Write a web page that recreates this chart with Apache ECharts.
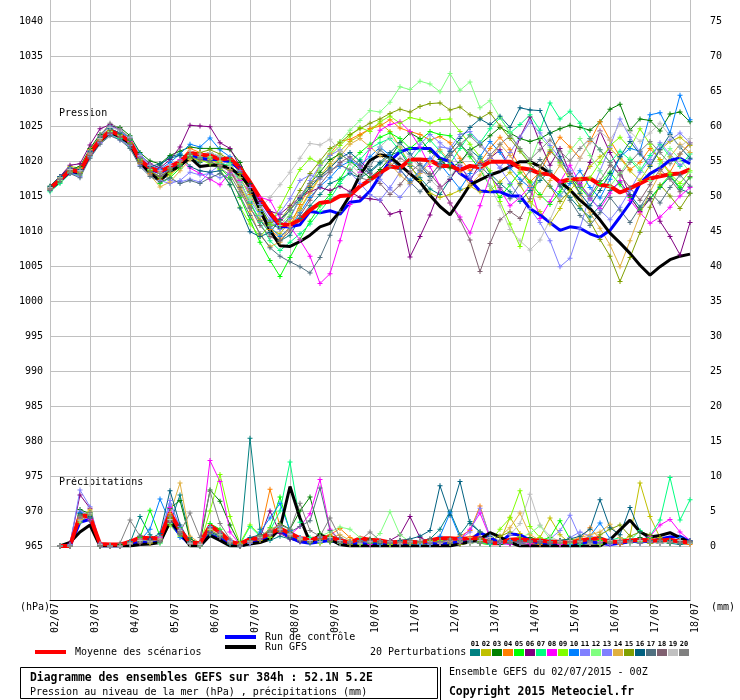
<!DOCTYPE html>
<html>
<head>
<meta charset="utf-8">
<title>Diagramme des ensembles GEFS</title>
<script src="https://cdn.jsdelivr.net/npm/echarts@6/dist/echarts.min.js"></script>
<style>
html, body { margin: 0; padding: 0; background: #fff; }
#chart { width: 740px; height: 700px; }
</style>
</head>
<body>
<div id="chart"></div>
<script>
// echeances toutes les 6h, du 02/07 00h au 18/07 00h
var steps = [
	'02/07 00h','02/07 06h','02/07 12h','02/07 18h','03/07 00h','03/07 06h','03/07 12h','03/07 18h',
	'04/07 00h','04/07 06h','04/07 12h','04/07 18h','05/07 00h','05/07 06h','05/07 12h','05/07 18h',
	'06/07 00h','06/07 06h','06/07 12h','06/07 18h','07/07 00h','07/07 06h','07/07 12h','07/07 18h',
	'08/07 00h','08/07 06h','08/07 12h','08/07 18h','09/07 00h','09/07 06h','09/07 12h','09/07 18h',
	'10/07 00h','10/07 06h','10/07 12h','10/07 18h','11/07 00h','11/07 06h','11/07 12h','11/07 18h',
	'12/07 00h','12/07 06h','12/07 12h','12/07 18h','13/07 00h','13/07 06h','13/07 12h','13/07 18h',
	'14/07 00h','14/07 06h','14/07 12h','14/07 18h','15/07 00h','15/07 06h','15/07 12h','15/07 18h',
	'16/07 00h','16/07 06h','16/07 12h','16/07 18h','17/07 00h','17/07 06h','17/07 12h','17/07 18h',
	'18/07 00h'
];

// couleurs des 20 perturbations
var memberColors = ['#008080','#c0c000','#008000','#ff8000','#00ff00','#800080','#00ff80','#ff00ff','#80ff00','#0080ff',
	'#8080ff','#80ff80','#8080ff','#e0b040','#80a000','#006080','#507080','#806070','#c0c0c0','#808080'];

// pression (hPa) - moyenne, controle, GFS
var presMean = [
	1016.1,1017.3,1018.7,1018.5,1021.1,1023.0,1024.3,1023.7,1022.8,1020.1,1019.0,1018.5,1019.2,1019.9,1021.2,1020.9,1020.8,
	1020.2,1020.4,1019.0,1017.0,1014.7,1012.6,1010.9,1010.9,1011.6,1013.0,1014.0,1014.2,1015.0,1015.1,1016.4,1017.3,
	1018.3,1019.2,1019.0,1020.2,1020.2,1020.1,1019.3,1019.3,1018.7,1019.3,1019.1,1019.9,1019.9,1019.9,1019.0,1018.8,
	1018.2,1018.1,1017.0,1017.4,1017.4,1017.5,1016.6,1016.4,1015.5,1016.1,1016.8,1017.5,1017.8,1018.1,1018.2,1018.8
];
var presCtrl = [
	1016.0,1017.2,1018.5,1018.3,1020.9,1022.9,1024.2,1023.5,1022.6,1019.9,1018.8,1018.3,1019.0,1019.8,1021.0,1020.4,1020.2,
	1020.2,1019.9,1018.8,1016.8,1014.5,1012.4,1010.6,1010.6,1010.9,1012.8,1012.6,1012.9,1012.4,1014.1,1014.3,1015.7,
	1017.9,1020.0,1021.3,1021.8,1021.8,1021.8,1020.4,1019.9,1018.2,1017.3,1015.7,1015.6,1015.6,1015.0,1015.0,1013.2,
	1012.3,1011.2,1010.1,1010.6,1010.4,1009.6,1009.1,1010.1,1012.0,1014.0,1016.8,1018.2,1019.0,1020.1,1020.4,1019.6
];
var presGfs = [
	1016.0,1017.2,1018.6,1018.3,1021.0,1022.8,1024.1,1023.5,1022.5,1019.8,1018.3,1017.2,1018.5,1019.3,1020.5,1019.2,1019.4,
	1019.4,1019.0,1018.0,1016.3,1013.0,1010.1,1007.9,1007.8,1008.5,1009.4,1010.6,1011.1,1012.8,1015.1,1018.0,1020.1,
	1020.9,1020.6,1019.4,1018.2,1017.0,1015.1,1013.5,1012.3,1014.4,1016.6,1017.3,1018.0,1018.5,1019.2,1019.9,1019.9,
	1019.2,1018.2,1017.0,1015.9,1014.4,1013.2,1011.6,1009.7,1008.3,1006.8,1005.1,1003.7,1004.9,1005.9,1006.4,1006.7
];

// pression (hPa) - perturbations 01 a 20
var pres01 = [
	1016.0,1017.6,1018.4,1018.2,1020.8,1023.2,1024.1,1023.2,1022.0,1019.6,1018.8,1019.4,1020.6,1021.0,1020.4,1019.8,1021.2,
	1020.6,1019.8,1017.2,1014.0,1011.5,1009.8,1008.6,1009.4,1011.8,1013.6,1015.2,1016.8,1017.4,1018.2,1017.6,1018.4,
	1019.6,1020.8,1021.4,1019.2,1017.6,1016.0,1015.2,1017.4,1019.8,1021.6,1020.4,1018.2,1016.8,1015.6,1014.2,1015.8,
	1017.2,1018.6,1016.4,1014.8,1013.2,1012.0,1013.6,1015.8,1017.0,1015.2,1013.4,1014.6,1016.2,1017.8,1016.0,1015.4
];
var pres02 = [
	1016.2,1017.8,1019.2,1019.0,1021.6,1023.6,1024.6,1024.0,1022.8,1020.4,1018.6,1017.2,1018.0,1019.2,1020.6,1020.0,1020.2,
	1019.6,1018.8,1016.4,1013.8,1011.6,1010.2,1009.6,1011.4,1013.2,1015.6,1017.8,1019.6,1021.4,1022.8,1023.6,1024.6,
	1025.4,1024.2,1022.0,1019.4,1017.2,1015.4,1014.8,1015.2,1015.8,1016.4,1015.6,1015.8,1017.0,1018.4,1016.6,1014.2,
	1012.8,1011.0,1013.2,1015.8,1017.4,1019.2,1020.6,1021.8,1020.4,1018.6,1017.2,1019.4,1021.6,1022.8,1023.4,1022.2
];
var pres03 = [
	1016.4,1017.8,1018.8,1019.2,1021.8,1023.8,1025.0,1024.8,1023.6,1021.2,1020.0,1019.6,1020.8,1021.4,1022.0,1021.8,1021.8,
	1021.8,1021.6,1019.8,1016.8,1013.6,1011.0,1010.4,1012.0,1014.6,1016.8,1018.4,1020.2,1021.0,1020.0,1018.8,1017.6,
	1018.8,1020.4,1022.6,1024.0,1023.2,1021.4,1020.2,1019.0,1019.8,1021.6,1022.4,1023.6,1024.8,1024.0,1023.2,1022.8,
	1023.2,1024.0,1024.6,1025.1,1024.8,1024.4,1025.6,1027.4,1028.1,1024.4,1026.0,1025.8,1024.3,1026.7,1027.0,1025.6
];
var pres04 = [
	1016.0,1017.4,1018.6,1018.4,1021.4,1023.2,1024.0,1023.4,1022.2,1019.6,1018.2,1017.4,1018.4,1020.0,1021.8,1021.2,1020.4,
	1019.8,1019.2,1017.6,1015.2,1012.4,1010.2,1009.0,1010.6,1013.8,1016.4,1019.4,1021.0,1022.8,1023.1,1023.8,1024.6,
	1025.0,1025.9,1024.7,1024.2,1023.8,1023.0,1023.5,1022.6,1020.4,1018.6,1019.8,1021.8,1023.4,1021.6,1019.2,1017.0,
	1018.4,1021.2,1023.4,1022.0,1020.4,1022.8,1025.6,1023.0,1020.6,1018.8,1019.8,1021.8,1020.2,1018.4,1021.0,1022.6
];
var pres05 = [
	1015.8,1017.0,1018.4,1018.6,1021.2,1022.8,1024.0,1023.8,1023.0,1020.4,1018.8,1016.8,1017.6,1019.0,1020.6,1020.4,1020.0,
	1019.0,1017.6,1014.8,1011.6,1008.4,1005.8,1003.5,1006.2,1008.8,1011.4,1013.6,1015.2,1017.4,1019.8,1021.2,1022.4,
	1023.4,1024.0,1023.2,1021.8,1023.0,1024.2,1023.8,1023.6,1022.4,1020.6,1018.8,1016.4,1014.8,1016.6,1018.4,1017.0,
	1015.2,1013.8,1015.6,1017.8,1016.2,1014.6,1016.8,1018.4,1016.6,1014.8,1013.0,1014.6,1016.4,1018.0,1016.2,1017.6
];
var pres06 = [
	1016.2,1017.8,1019.4,1019.6,1022.3,1024.6,1025.2,1024.4,1023.2,1020.8,1019.6,1019.0,1020.2,1022.0,1025.1,1025.0,1024.9,
	1022.6,1021.8,1019.2,1016.6,1014.2,1012.8,1012.4,1013.6,1014.8,1015.6,1016.2,1015.8,1016.4,1015.6,1014.8,1014.6,
	1014.4,1012.4,1012.8,1006.3,1009.2,1012.3,1016.1,1017.4,1019.4,1017.2,1019.6,1020.4,1021.6,1019.2,1023.4,1026.3,
	1022.6,1019.4,1021.8,1018.2,1016.4,1019.8,1024.3,1021.2,1018.6,1015.0,1012.8,1014.6,1011.4,1009.2,1006.6,1011.2
];
var pres07 = [
	1015.6,1016.8,1018.2,1018.0,1020.6,1022.6,1023.8,1023.2,1022.4,1019.8,1018.4,1017.8,1018.6,1019.4,1020.8,1020.6,1020.4,
	1019.6,1019.4,1017.0,1014.2,1011.2,1008.6,1007.2,1008.4,1009.6,1011.0,1012.8,1014.6,1016.8,1018.6,1020.2,1021.8,
	1022.6,1023.2,1021.4,1019.8,1021.6,1023.0,1021.4,1019.6,1021.8,1023.8,1022.6,1024.6,1026.2,1024.0,1025.2,1026.6,
	1024.4,1028.3,1026.0,1027.1,1025.4,1023.2,1021.6,1019.8,1021.4,1020.2,1018.6,1020.8,1022.4,1020.6,1019.2,1021.0
];
var pres08 = [
	1016.0,1017.4,1018.8,1018.8,1021.0,1022.6,1024.0,1023.6,1022.8,1020.6,1019.4,1018.6,1019.4,1020.2,1019.0,1018.2,1017.4,
	1016.6,1018.4,1017.2,1015.6,1014.8,1014.4,1011.8,1010.6,1008.7,1006.4,1002.5,1003.9,1008.6,1013.8,1018.4,1021.8,
	1024.4,1025.2,1025.6,1024.2,1022.0,1019.2,1016.4,1014.0,1012.0,1009.7,1013.6,1017.8,1016.0,1013.6,1014.8,1016.4,
	1011.8,1014.2,1017.0,1019.4,1016.8,1014.6,1013.2,1015.4,1017.2,1014.4,1012.6,1011.1,1012.0,1013.4,1015.0,1016.2
];
var pres09 = [
	1016.2,1017.6,1018.6,1018.2,1020.8,1022.8,1024.2,1023.8,1023.0,1020.2,1018.6,1017.6,1018.2,1019.6,1020.4,1020.2,1019.6,
	1018.8,1016.6,1013.4,1011.0,1009.2,1010.8,1013.4,1016.2,1018.8,1020.4,1019.6,1020.8,1022.2,1023.6,1024.8,1024.2,
	1025.6,1026.4,1025.4,1026.2,1025.9,1025.4,1025.9,1026.0,1024.2,1022.4,1020.6,1018.6,1014.2,1011.0,1007.8,1012.6,
	1019.2,1021.6,1019.8,1017.2,1015.4,1017.6,1019.8,1022.2,1023.4,1021.8,1024.6,1022.4,1020.0,1018.2,1016.8,1018.6
];
var pres10 = [
	1016.2,1017.6,1018.8,1018.6,1021.4,1023.4,1024.6,1024.0,1023.4,1021.0,1019.4,1018.8,1019.8,1021.0,1022.4,1022.0,1023.3,
	1021.6,1020.6,1018.4,1015.6,1012.8,1010.6,1009.2,1010.4,1012.6,1014.8,1016.4,1017.6,1019.2,1020.0,1019.4,1020.6,
	1022.0,1020.8,1018.8,1017.2,1018.6,1020.4,1019.6,1017.8,1016.0,1018.2,1020.6,1022.8,1021.2,1019.0,1017.4,1016.2,
	1018.0,1016.4,1015.0,1016.8,1018.6,1016.2,1014.7,1017.4,1020.6,1021.8,1021.4,1026.6,1026.9,1024.0,1029.4,1025.9
];
var pres11 = [
	1015.8,1017.2,1018.2,1017.8,1020.6,1022.6,1023.8,1023.0,1022.2,1019.4,1018.0,1017.2,1016.8,1017.2,1018.4,1018.0,1018.2,
	1017.6,1018.2,1016.8,1014.4,1012.2,1011.4,1012.6,1014.6,1017.2,1018.0,1017.4,1018.6,1019.6,1018.4,1016.8,1015.2,
	1014.4,1016.2,1018.4,1020.6,1022.4,1023.8,1022.6,1021.4,1019.2,1017.6,1018.8,1020.4,1019.0,1016.8,1014.8,1013.2,
	1011.2,1008.6,1004.9,1006.1,1010.4,1015.2,1018.6,1022.0,1026.0,1023.4,1021.2,1019.6,1021.8,1023.0,1024.0,1022.6
];
var pres12 = [
	1016.0,1017.2,1018.4,1018.4,1021.0,1023.0,1024.2,1023.6,1022.6,1020.0,1018.8,1018.4,1019.0,1019.6,1020.8,1020.4,1020.6,
	1020.0,1019.6,1017.6,1014.8,1012.4,1011.0,1010.8,1012.4,1014.2,1016.8,1019.0,1021.4,1022.8,1024.4,1025.8,1027.2,
	1027.0,1028.4,1030.6,1030.2,1031.4,1031.0,1029.9,1032.5,1030.1,1031.3,1027.6,1028.6,1026.2,1024.0,1021.6,1019.8,
	1023.4,1022.0,1019.6,1021.4,1023.2,1020.8,1018.6,1016.4,1018.2,1020.4,1019.0,1017.2,1019.6,1021.8,1020.2,1018.4
];
var pres13 = [
	1016.2,1017.8,1019.0,1018.6,1021.4,1023.6,1025.0,1024.4,1023.2,1020.6,1019.2,1018.2,1017.2,1017.0,1017.4,1017.0,1018.4,
	1019.4,1020.2,1018.6,1016.2,1013.8,1011.6,1010.2,1011.8,1014.6,1017.2,1019.4,1020.8,1021.6,1020.4,1019.0,1018.2,
	1017.4,1016.0,1014.8,1016.6,1018.4,1020.2,1022.0,1021.8,1023.8,1024.2,1022.6,1020.8,1019.0,1021.2,1023.4,1025.6,
	1024.0,1022.2,1020.4,1018.6,1016.4,1014.8,1013.0,1011.6,1013.4,1015.8,1018.4,1020.2,1022.6,1021.0,1019.4,1020.2
];
var pres14 = [
	1016.0,1017.6,1018.8,1019.0,1021.6,1023.4,1024.4,1023.8,1022.6,1019.8,1018.0,1016.3,1017.0,1018.6,1020.2,1020.6,1020.2,
	1019.4,1018.6,1016.0,1012.8,1009.4,1007.8,1008.4,1010.6,1013.0,1015.4,1017.6,1019.2,1020.6,1022.4,1023.2,1022.0,
	1020.8,1019.6,1018.0,1016.8,1018.2,1019.8,1021.6,1020.0,1018.4,1016.6,1018.0,1020.2,1022.4,1020.8,1018.6,1016.4,
	1014.8,1017.2,1019.4,1017.6,1015.2,1012.6,1010.4,1008.0,1004.9,1008.6,1012.4,1015.6,1018.2,1020.6,1022.4,1021.2
];
var pres15 = [
	1016.2,1017.6,1018.6,1018.4,1021.2,1023.2,1024.4,1023.8,1022.6,1020.0,1018.6,1017.8,1018.8,1019.6,1021.0,1021.2,1021.6,
	1021.0,1020.2,1018.2,1015.6,1013.0,1011.2,1011.6,1013.4,1015.8,1018.2,1020.0,1021.8,1022.6,1023.8,1024.6,1025.4,
	1026.0,1026.8,1027.4,1027.0,1027.8,1028.2,1028.3,1027.3,1027.7,1026.6,1026.1,1026.9,1025.0,1023.2,1021.4,1019.6,
	1018.0,1016.4,1014.2,1015.8,1013.6,1011.4,1008.8,1006.4,1002.8,1006.2,1009.8,1013.4,1016.6,1015.0,1013.2,1015.4
];
var pres16 = [
	1016.4,1017.8,1019.0,1018.8,1021.4,1023.4,1024.6,1024.0,1023.0,1020.4,1019.2,1019.6,1020.4,1020.8,1019.2,1018.6,1018.4,
	1018.6,1016.6,1013.3,1009.9,1009.2,1009.8,1011.6,1013.0,1014.6,1016.2,1017.8,1019.0,1020.4,1021.2,1020.0,1018.6,
	1019.8,1021.2,1022.6,1021.0,1019.4,1017.8,1019.6,1021.4,1023.2,1024.8,1026.0,1025.2,1026.4,1024.8,1027.6,1027.3,
	1027.2,1024.0,1020.6,1017.8,1015.4,1013.6,1015.8,1018.2,1020.6,1022.8,1021.0,1019.2,1021.6,1023.8,1022.0,1020.4
];
var pres17 = [
	1015.8,1017.0,1018.2,1017.6,1020.4,1022.4,1023.6,1023.0,1021.8,1019.2,1017.8,1017.0,1017.6,1016.8,1017.2,1016.8,1017.6,
	1018.2,1017.4,1015.0,1012.2,1009.6,1007.6,1006.4,1005.6,1004.9,1004.0,1006.2,1009.4,1012.8,1015.4,1017.6,1019.2,
	1021.6,1020.4,1018.8,1017.0,1015.6,1017.2,1019.0,1020.8,1022.4,1021.0,1019.4,1017.8,1016.2,1014.6,1016.8,1018.6,
	1020.2,1018.4,1016.6,1014.4,1012.2,1010.8,1012.6,1014.8,1013.0,1011.2,1013.4,1015.6,1014.0,1016.2,1018.0,1016.4
];
var pres18 = [
	1016.0,1017.4,1018.6,1018.2,1020.8,1022.8,1024.0,1023.4,1022.4,1019.8,1018.4,1017.8,1018.6,1019.2,1020.6,1020.2,1020.0,
	1019.2,1018.6,1016.2,1013.4,1010.8,1009.2,1008.6,1010.0,1012.2,1014.4,1016.6,1018.4,1019.8,1020.6,1019.4,1018.2,
	1016.8,1015.2,1016.6,1018.4,1019.6,1018.2,1016.4,1014.0,1011.6,1008.7,1004.2,1008.2,1011.6,1012.8,1011.8,1014.6,
	1019.2,1021.4,1020.0,1018.2,1016.6,1015.0,1017.2,1019.4,1018.0,1016.2,1014.4,1016.6,1018.8,1017.4,1015.6,1017.8
];
var pres19 = [
	1016.2,1017.6,1018.8,1018.6,1021.2,1023.2,1024.8,1024.4,1023.4,1020.8,1019.4,1018.6,1019.4,1020.0,1021.4,1021.0,1021.2,
	1020.6,1019.2,1016.8,1014.4,1013.2,1014.8,1016.6,1018.4,1020.4,1022.5,1022.3,1023.1,1021.4,1019.6,1018.2,1019.4,
	1022.0,1023.4,1022.2,1020.6,1019.0,1017.4,1016.0,1017.8,1019.6,1021.4,1019.2,1016.4,1013.6,1010.2,1008.6,1007.3,
	1008.7,1011.6,1014.8,1017.6,1020.4,1022.6,1024.2,1023.0,1025.3,1024.2,1022.8,1024.0,1025.4,1023.6,1022.0,1023.2
];
var pres20 = [
	1016.0,1017.4,1018.4,1018.0,1021.2,1023.6,1025.4,1024.6,1023.2,1020.4,1019.0,1018.2,1019.0,1020.0,1021.0,1020.4,1019.8,
	1019.0,1018.0,1015.6,1013.2,1011.4,1010.6,1011.2,1013.0,1015.0,1016.8,1017.6,1018.6,1019.4,1018.8,1017.6,1017.2,
	1018.0,1019.2,1020.4,1019.6,1018.6,1018.0,1019.4,1021.0,1022.4,1023.6,1022.2,1020.8,1022.4,1023.6,1021.8,1020.2,
	1021.6,1023.0,1021.4,1020.0,1021.8,1023.2,1021.6,1019.8,1018.0,1019.8,1021.4,1022.8,1021.2,1019.6,1021.0,1022.4
];

// precipitations (mm) - pas de valeur a l'echeance 0
var rainMean = [null,
	0,0,4.4,4.2,0.3,0.2,0.2,0.6, 1.2,1.1,1.1,4.7,2.3,0.5,0.4,2.9,
	2.0,0.6,0.3,1.0,1.1,1.8,2.5,1.8, 1.1,1.0,1.1,1.3,0.8,0.5,1.1,0.9,
	0.8,0.5,0.6,0.6,0.5,0.8,1.1,1.1, 1.0,1.1,1.1,0.4,0.4,0.9,1.0,0.8,
	0.8,0.6,0.6,0.4,0.8,1.0,1.1,0.6, 0.6,0.8,0.9,0.8,0.8,0.9,0.6,0.5
];
var rainCtrl = [null,
	0,0,3.4,3.8,0,0,0,0.2, 0.6,0.4,0.6,3.6,1.6,0.2,0,1.6,
	1.0,0.2,0,0.4,0.8,1.4,2.2,1.2, 0.6,0.4,0.6,0.8,0.4,0.2,0.4,0.2,
	0.2,0.4,0.2,0.4,0.6,0.4,0.2,0.4, 0.6,0.8,1.9,1.2,0.4,1.7,1.6,0.8,
	0.4,0.2,0.4,0.2,0.4,0.6,0.4,0.2, 0.4,0.6,0.8,0.6,1.0,1.3,1.4,0.6
];
var rainGfs = [null,
	0,0.5,2.0,3.0,0,0,0,0, 0.2,0.3,0.5,3.5,2.0,0,0,1.5,
	0.8,0,0,0.3,0.5,1.0,2.5,8.5, 4.0,0.5,1.6,1.0,0.2,0,0,0,
	0,0,0,0,0,0,0,0, 0.3,0.6,1.0,1.9,1.3,0.5,0,0,
	0,0,0,0,0,0,0,0.9, 2.3,3.7,2.0,1.3,1.5,1.9,1.2,0.5
];
var rain01 = [null,
	0,0.2,4.6,4.0,0,0,0,0.4, 4.2,1.6,0.6,3.2,7.3,1.2,0,1.6,
	1.2,0.2,0,15.4,2.4,0.8,1.4,1.0, 0.6,0.4,0.8,1.2,0.4,0.2,0.6,0.4,
	0.2,0.4,0.6,0.2,0.4,1.0,2.4,4.9, 1.6,3.5,2.0,0.6,0.2,0.4,0.8,0.6,
	0.4,0.2,0.4,0.2,0.6,0.8,1.2,0.4, 0.2,0.6,0.4,0.8,0.6,0.4,0.2,0.4
];
var rain02 = [null,
	0,0,4.2,5.0,0.2,0,0,0.4, 0.8,0.6,1.2,4.4,2.0,0.2,0,2.2,
	1.6,0.4,0,0.6,0.8,1.4,2.0,1.2, 0.8,0.6,0.4,1.0,0.6,0.2,0.8,0.6,
	0.4,0.2,0.4,0.6,0.2,0.4,0.6,0.8, 0.6,0.8,0.4,0.2,0.6,4.1,1.8,0.6,
	1.2,4.0,1.6,0.4,0.6,1.2,0.8,0.4, 0.6,1.4,9.0,4.2,1.2,0.8,0.4,0.6
];
var rain03 = [null,
	0,0,5.2,4.6,0,0,0.2,0.6, 1.4,0.8,0.6,5.4,6.5,1.0,0.4,8.0,
	6.4,3.0,0.2,0.8,1.2,2.0,3.2,2.4, 5.0,7.0,1.8,0.6,0.4,0.2,0.8,1.0,
	0.6,0.4,0.2,0.4,0.6,0.8,0.6,0.4, 0.8,0.6,1.0,0.4,0.2,0.6,0.8,1.2,
	0.8,0.6,0.4,0.2,0.6,0.8,0.4,0.2, 0.4,0.8,1.2,0.6,0.4,0.6,0.8,0.4
];
var rain04 = [null,
	0,0,3.8,4.2,0.2,0,0,0.2, 0.6,0.4,1.0,3.6,1.8,0.4,0.2,2.4,
	1.4,0.6,0.2,0.4,1.6,8.1,2.8,1.4, 0.8,0.6,1.0,1.6,2.5,1.2,0.6,0.4,
	0.2,0.6,0.8,0.4,0.2,0.6,0.8,1.0, 1.4,2.2,5.7,1.2,0.4,0.6,0.8,0.4,
	0.2,0.4,0.6,0.8,1.0,2.6,1.0,0.4, 0.2,0.6,0.8,0.4,0.6,0.8,0.4,0.2
];
var rain05 = [null,
	0,0,4.4,4.8,0,0,0,0.4, 1.2,5.1,1.4,4.0,2.6,0.6,0.2,3.2,
	2.4,0.8,0.2,0.6,1.0,2.6,7.0,2.0, 1.2,0.6,0.8,1.4,0.8,0.4,0.6,0.8,
	0.6,0.4,0.2,0.6,0.4,0.8,0.6,0.4, 0.6,0.8,0.4,0.2,0.4,0.6,0.8,0.6,
	0.8,1.2,3.6,1.0,0.4,0.6,0.8,0.4, 0.6,0.4,0.8,1.2,0.6,0.4,0.8,0.6
];
var rain06 = [null,
	0,0.4,7.3,5.4,0.2,0,0,0.2, 0.6,1.0,0.8,4.2,2.2,0.4,0,2.0,
	1.2,0.4,0,0.4,1.2,5.0,1.8,1.0, 0.6,0.8,1.2,0.6,0.4,0.2,0.6,0.8,
	0.4,0.8,1.6,4.2,1.2,0.6,0.4,0.6, 0.4,0.6,0.8,0.2,0.4,0.6,0.4,0.2,
	0.4,0.6,0.2,0.4,0.8,0.6,0.4,0.2, 0.4,0.6,0.8,0.4,0.6,0.8,0.4,0.6
];
var rain07 = [null,
	0,0,3.6,4.4,0,0,0,0.2, 0.8,0.6,0.4,3.8,1.6,0.2,0,1.8,
	1.4,0.6,0.2,2.8,1.4,2.2,5.0,12.0, 3.4,1.2,0.8,0.6,0.4,0.6,0.8,0.4,
	0.6,0.4,0.8,0.6,0.4,0.2,0.4,0.6, 0.8,0.4,0.6,0.2,0.4,0.6,0.8,0.6,
	0.4,0.6,0.8,0.4,0.2,0.4,0.6,0.8, 1.2,0.8,2.2,1.4,3.7,9.8,3.7,6.6
];
var rain08 = [null,
	0,0,4.0,3.8,0,0,0,0.4, 0.6,0.8,1.2,5.5,2.0,0.6,0.4,12.2,
	9.2,2.0,0.2,0.6,1.0,1.8,2.4,1.6, 2.8,4.6,9.5,2.4,0.8,0.4,0.6,0.2,
	0.4,0.6,0.2,0.4,0.8,0.6,0.4,0.6, 1.0,2.4,4.7,1.2,0.4,0.2,0.6,0.4,
	0.6,0.4,0.2,0.6,0.8,0.4,0.6,0.2, 0.4,0.6,0.8,1.4,3.0,3.8,2.0,0.8
];
var rain09 = [null,
	0,0,3.4,4.6,0.2,0,0,0.6, 1.0,0.8,0.6,3.0,1.4,0.6,0.2,5.0,
	10.2,4.2,0.4,3.0,1.6,1.2,2.6,1.8, 1.0,0.6,0.4,0.8,0.6,0.4,0.2,0.6,
	0.4,0.2,0.6,0.8,0.4,0.6,0.8,0.4, 0.6,0.8,1.0,0.6,2.4,4.0,7.9,2.8,
	1.2,0.6,0.4,0.6,0.8,0.4,0.2,0.6, 0.4,0.8,0.6,0.4,0.6,0.8,0.4,0.6
];
var rain10 = [null,
	0,0,4.8,4.0,0,0,0,0.2, 0.8,2.4,6.7,3.4,1.2,0.4,0.2,2.6,
	1.8,0.6,0,0.4,2.0,4.0,6.1,2.2, 1.2,0.8,0.6,1.0,0.4,0.6,0.8,0.4,
	0.2,0.4,0.6,0.4,0.2,0.6,1.4,4.7, 1.2,0.6,0.8,0.4,0.6,0.8,0.4,0.6,
	0.8,0.6,0.4,0.2,0.6,1.4,3.3,1.0, 0.6,0.4,0.8,0.6,0.4,0.6,1.2,0.8
];
var rain11 = [null,
	0,0.2,8.0,5.6,0.4,0,0,0.4, 0.8,0.6,1.4,6.5,2.4,0.6,0.2,2.0,
	1.6,0.8,0.2,0.6,1.0,1.6,2.2,1.4, 0.8,0.6,1.2,0.8,0.4,0.6,0.4,0.8,
	0.6,0.4,0.2,0.6,0.8,0.4,0.6,0.8, 1.0,2.0,5.4,1.4,0.6,0.4,0.6,0.8,
	0.4,1.0,2.2,4.4,1.2,0.6,0.4,0.2, 0.4,0.6,0.8,0.6,0.4,0.6,0.8,0.4
];
var rain12 = [null,
	0,0,4.0,4.2,0,0,0,0.2, 0.6,0.8,0.4,3.2,1.6,0.4,0,1.8,
	1.4,0.4,0.2,0.8,1.4,2.0,2.6,1.6, 1.0,0.8,1.4,2.0,2.7,2.4,1.2,0.6,
	1.8,4.9,1.6,0.6,0.4,0.8,0.6,0.4, 0.6,0.8,0.4,0.6,0.8,0.6,1.2,1.8,
	2.9,1.0,0.6,0.4,0.6,0.8,0.4,0.6, 0.8,0.4,0.6,0.8,0.4,0.6,0.8,0.6
];
var rain13 = [null,
	0,0,5.0,4.4,0.2,0,0,0.6, 1.0,0.8,1.0,6.0,2.8,0.4,0.2,2.8,
	2.0,0.8,0.2,0.4,1.2,1.8,2.8,1.8, 1.2,0.8,0.6,1.0,0.6,0.4,0.8,0.6,
	0.4,0.6,0.8,0.6,0.4,0.2,0.6,0.8, 0.6,0.4,0.8,0.6,0.4,0.6,0.4,0.6,
	0.8,0.6,0.4,1.2,2.0,1.4,0.6,0.4, 0.6,0.8,0.4,0.6,0.8,0.6,0.4,0.6
];
var rain14 = [null,
	0,0,3.8,5.2,0.2,0,0,0.4, 0.8,0.6,0.8,4.6,9.0,1.4,0.4,2.4,
	1.8,0.6,0,0.6,1.4,2.4,3.0,1.6, 1.0,0.6,0.8,1.2,1.6,0.8,0.4,0.6,
	0.4,0.6,0.8,0.4,0.6,0.8,0.4,0.6, 0.8,1.2,2.0,0.8,1.4,2.6,4.7,1.6,
	0.8,0.6,0.4,0.8,1.2,1.6,2.0,3.1, 1.2,0.6,0.8,1.0,0.6,0.8,0.4,0.6
];
var rain15 = [null,
	0,0,4.2,4.4,0,0,0,0.4, 0.6,0.4,1.0,4.0,2.0,0.6,0.2,2.2,
	1.6,0.4,0.2,0.8,1.2,1.8,2.4,1.4, 0.8,0.6,1.0,0.6,0.4,0.2,0.6,0.4,
	0.6,0.4,0.2,0.4,0.6,0.8,0.6,0.4, 0.2,0.4,0.6,0.8,1.4,2.0,1.2,0.6,
	0.4,0.6,0.8,1.0,0.6,0.4,1.6,2.4, 3.0,1.4,2.0,1.6,1.0,0.6,0.8,0.4
];
var rain16 = [null,
	0,0,4.6,4.2,0.2,0,0,0.6, 1.4,1.0,1.8,7.9,3.0,0.6,0.2,2.0,
	1.4,0.4,0,1.2,1.6,1.8,2.2,1.2, 0.8,0.6,0.8,1.0,0.6,0.4,0.8,0.6,
	0.4,0.6,0.8,1.0,1.4,2.2,8.6,4.4, 9.2,3.2,2.0,1.4,0.6,0.4,0.6,0.8,
	0.6,0.4,0.8,1.0,1.4,2.4,6.6,2.6, 1.6,5.5,2.0,0.8,0.6,0.8,0.4,0.6
];
var rain17 = [null,
	0,0,4.4,4.0,0,0,0,0.2, 0.6,0.8,0.6,3.6,1.8,0.4,0.2,2.6,
	1.8,0.6,0.2,0.8,1.2,2.0,2.6,2.0, 2.8,3.6,8.3,2.2,0.8,0.6,0.4,0.8,
	0.6,0.4,0.2,0.6,0.8,0.4,0.6,1.0, 0.8,0.6,0.4,0.8,0.6,0.4,0.8,0.6,
	0.4,0.6,0.8,0.6,0.4,0.8,0.6,0.4, 0.6,0.8,1.0,0.8,0.6,0.4,0.6,0.8
];
var rain18 = [null,
	0,0,4.0,3.6,0,0,0,0.2, 0.4,0.6,0.8,3.4,1.6,0.2,0,1.8,
	1.2,0.4,0,0.6,1.0,1.6,2.2,1.4, 0.8,0.6,1.0,0.8,0.6,0.4,0.6,0.8,
	0.6,0.8,0.4,0.6,0.8,1.0,0.6,0.4, 0.6,0.8,1.2,0.8,0.6,0.4,0.6,0.8,
	0.6,0.4,0.6,0.8,0.6,0.4,0.6,0.8, 0.4,0.6,0.8,0.6,0.4,0.6,0.8,0.6
];
var rain19 = [null,
	0,0,3.6,4.6,0.2,0,0,0.4, 0.8,0.6,1.0,3.8,2.2,0.4,0.2,2.4,
	1.6,0.6,0.2,0.6,1.2,1.8,2.4,1.6, 1.0,0.8,0.6,1.2,0.8,0.6,0.4,0.6,
	0.8,0.6,0.4,0.6,0.8,0.6,0.4,0.8, 0.6,0.4,0.8,1.2,0.8,1.6,3.2,7.4,
	3.0,1.4,0.6,0.8,0.6,0.4,0.6,0.8, 0.6,0.4,0.8,0.6,0.4,0.6,0.8,0.4
];
var rain20 = [null,
	0,0,4.2,4.8,0,0,0.4,3.7, 1.4,0.8,0.6,4.2,2.0,4.7,1.2,7.8,
	3.2,1.0,0.2,0.8,1.4,2.2,3.0,2.4, 6.1,2.2,1.4,4.0,1.2,0.6,0.8,2.0,
	0.8,0.4,0.6,0.8,0.6,0.4,0.6,0.8, 0.6,0.8,0.4,0.6,0.8,0.6,0.4,0.6,
	0.8,0.6,0.4,0.6,0.8,0.6,0.4,0.6, 0.8,0.6,0.4,0.6,0.8,0.6,0.4,0.6
];

var presMembers = [pres01,pres02,pres03,pres04,pres05,pres06,pres07,pres08,pres09,pres10,
	pres11,pres12,pres13,pres14,pres15,pres16,pres17,pres18,pres19,pres20];
var rainMembers = [rain01,rain02,rain03,rain04,rain05,rain06,rain07,rain08,rain09,rain10,
	rain11,rain12,rain13,rain14,rain15,rain16,rain17,rain18,rain19,rain20];

var FONT = '"DejaVu Sans Mono", "Liberation Mono", monospace';
var PLUS = 'path://M2,0H3V2H5V3H3V5H2V3H0V2H2Z';

function memberLine(name, data, color, yIdx) {
	return {
		name: name, type: 'line', xAxisIndex: 0, yAxisIndex: yIdx, data: data,
		symbol: PLUS, symbolSize: 5, showAllSymbol: true,
		lineStyle: { color: color, width: 1 },
		itemStyle: { color: color },
		silent: true, animation: false
	};
}
function mainLine(name, data, color, width, yIdx) {
	return {
		name: name, type: 'line', xAxisIndex: 0, yAxisIndex: yIdx, data: data,
		symbol: 'none',
		lineStyle: { color: color, width: width },
		silent: true, animation: false
	};
}

var series = [];
for (var i = 0; i < presMembers.length; i++) {
	series.push(memberLine('P' + (i + 1), presMembers[i], memberColors[i], 0));
}
for (var i = 0; i < rainMembers.length; i++) {
	series.push(memberLine('R' + (i + 1), rainMembers[i], memberColors[i], 1));
}
series.push(mainLine('Run de contrôle', presCtrl, '#0000ff', 3, 0));
series.push(mainLine('Run de contrôle', rainCtrl, '#0000ff', 3, 1));
series.push(mainLine('Run GFS', presGfs, '#000000', 3, 0));
series.push(mainLine('Run GFS', rainGfs, '#000000', 3, 1));
series.push(mainLine('Moyenne des scénarios', presMean, '#ff0000', 4, 0));
series.push(mainLine('Moyenne des scénarios', rainMean, '#ff0000', 4, 1));

function txt(x, y, s, size, bold, align) {
	return {
		type: 'text', x: x, y: y, silent: true,
		style: {
			text: s, fill: '#000', fontFamily: FONT, fontSize: size,
			fontWeight: bold ? 'bold' : 'normal',
			textAlign: align || 'left', textVerticalAlign: 'middle'
		}
	};
}

// textes et legende
var graphics = [
	txt(59, 113, 'Pression', 10),
	txt(59, 482, 'Précipitations', 10),
	txt(20, 607, '(hPa)', 10),
	txt(711, 607, '(mm)', 10),
	{ type: 'rect', shape: { x: 35, y: 650, width: 31, height: 4 }, style: { fill: '#ff0000' } },
	txt(75, 652, 'Moyenne des scénarios', 10),
	{ type: 'rect', shape: { x: 225, y: 635, width: 31, height: 4 }, style: { fill: '#0000ff' } },
	txt(265, 637, 'Run de contrôle', 10),
	{ type: 'rect', shape: { x: 225, y: 645, width: 31, height: 4 }, style: { fill: '#000000' } },
	txt(265, 647, 'Run GFS', 10),
	txt(370, 652, '20 Perturbations', 10),
	{ type: 'rect', shape: { x: 20.5, y: 667.5, width: 417, height: 31 }, style: { fill: '#fff', stroke: '#000', lineWidth: 1 } },
	txt(30, 678, 'Diagramme des ensembles GEFS sur 384h : 52.1N 5.2E', 11.4, true),
	txt(30, 692, 'Pression au niveau de la mer (hPa) , précipitations (mm)', 10),
	{ type: 'line', shape: { x1: 440.5, y1: 667, x2: 440.5, y2: 700 }, style: { stroke: '#000', lineWidth: 1 } },
	txt(449, 672, 'Ensemble GEFS du 02/07/2015 - 00Z', 10),
	txt(449, 692, 'Copyright 2015 Meteociel.fr', 11.4, true)
];
for (var i = 0; i < memberColors.length; i++) {
	var bx = 470 + i * 11;
	graphics.push({ type: 'rect', shape: { x: bx, y: 649, width: 10, height: 7 }, style: { fill: memberColors[i] } });
	graphics.push(txt(bx + 5, 644, (i < 9 ? '0' : '') + (i + 1), 7, true, 'center'));
}

var myChart = echarts.init(document.getElementById('chart'), null, { renderer: 'canvas' });
var option = {
	backgroundColor: '#ffffff',
	animation: false,
	grid: [
		{ left: 50, right: 50, top: 21, height: 525 },
		{ left: 50, right: 50, top: 0, height: 600 }
	],
	xAxis: [
		{ type: 'category', gridIndex: 0, data: steps, boundaryGap: false, show: false },
		{
			type: 'category', gridIndex: 1, data: steps, boundaryGap: false,
			axisLine: { lineStyle: { color: '#000', width: 1 } },
			axisTick: { show: false },
			axisLabel: {
				interval: 3, rotate: 90, margin: 3, verticalAlign: 'top',
				color: '#000', fontFamily: FONT, fontSize: 10,
				formatter: function (v) { return v.slice(0, 5); }
			},
			splitLine: { show: true, interval: 3, lineStyle: { color: '#c0c0c0', width: 1 } }
		}
	],
	yAxis: [
		{
			type: 'value', gridIndex: 0, position: 'left', min: 965, max: 1040, interval: 5,
			axisLine: { show: false }, axisTick: { show: false },
			axisLabel: { color: '#000', fontFamily: FONT, fontSize: 10, margin: 7,
				formatter: function (v) { return String(v); } },
			splitLine: { lineStyle: { color: '#c0c0c0', width: 1 } }
		},
		{
			type: 'value', gridIndex: 0, position: 'right', min: 0, max: 75, interval: 5,
			axisLine: { show: false }, axisTick: { show: false },
			axisLabel: { color: '#000', fontFamily: FONT, fontSize: 10, margin: 20,
				formatter: function (v) { return String(v); } },
			splitLine: { show: false }
		},
		{ type: 'value', gridIndex: 1, min: 0, max: 1, show: false }
	],
	graphic: graphics,
	series: series
};
myChart.setOption(option);
</script>
</body>
</html>
